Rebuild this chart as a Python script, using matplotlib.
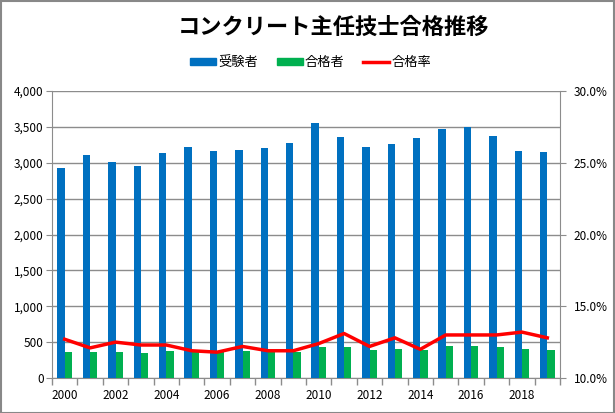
import matplotlib.pyplot as plt
import numpy as np
from matplotlib.ticker import FuncFormatter, MultipleLocator, FixedLocator
from matplotlib.patches import Rectangle
from matplotlib.lines import Line2D

plt.rcParams['font.family'] = ['Noto Sans CJK JP', 'DejaVu Sans']

years = list(range(2000, 2020))
examinees = [2926, 3107, 3009, 2953, 3135, 3219, 3163, 3177, 3205, 3274,
             3553, 3358, 3219, 3260, 3344, 3470, 3498, 3372, 3163, 3149]
passed = [366, 366, 366, 352, 380, 366, 366, 380, 366, 366,
          435, 435, 394, 407, 394, 449, 449, 435, 407, 394]
pass_rate = [12.7, 12.1, 12.5, 12.3, 12.3, 11.9, 11.8, 12.2, 11.9, 11.9,
             12.4, 13.1, 12.2, 12.8, 12.0, 13.0, 13.0, 13.0, 13.2, 12.8]

blue = '#0070c0'
green = '#00b050'
red = '#ff0000'
grid = '#8c8c8c'

fig = plt.figure(figsize=(6.15, 4.13), dpi=100)
ax = fig.add_axes([0.0846, 0.0847, 0.826, 0.695])
x = np.arange(len(years))
w = 0.29
ax.bar(x - w / 2, examinees, w, color=blue, zorder=3, label='受験者')
ax.bar(x + w / 2, passed, w, color=green, zorder=3, label='合格者')
ax.set_xlim(-0.5, len(years) - 0.5)
ax.set_ylim(0, 4000)
ax.yaxis.set_major_locator(MultipleLocator(500))
ax.yaxis.set_major_formatter(FuncFormatter(lambda v, p: f'{int(v):,}'))
ax.grid(axis='y', color=grid, linewidth=1, zorder=0)

ax.set_xticks(x[::2])
ax.set_xticklabels([str(y) for y in years[::2]])
ax.xaxis.set_minor_locator(FixedLocator(np.arange(-0.5, len(years), 1)))
ax.tick_params(axis='x', which='major', length=0, labelsize=8.5, pad=8)
ax.tick_params(axis='x', which='minor', length=5, color=grid, width=1)
ax.tick_params(axis='y', length=4, color=grid, labelsize=8.5, pad=2)
for s in ['top', 'right']:
    ax.spines[s].set_visible(False)
for s in ['left', 'bottom']:
    ax.spines[s].set_color(grid)

ax2 = ax.twinx()
ax2.plot(x, pass_rate, color=red, linewidth=2.5, zorder=4, label='合格率')
ax2.set_ylim(10, 30)
ax2.yaxis.set_major_locator(MultipleLocator(5))
ax2.yaxis.set_major_formatter(FuncFormatter(lambda v, p: f'{v:.1f}%'))
ax2.tick_params(axis='y', length=4, color=grid, labelsize=8.5, pad=6)
for s in ['top', 'left', 'bottom']:
    ax2.spines[s].set_visible(False)
ax2.spines['right'].set_color(grid)

fig.text(0.542, 0.935, 'コンクリート主任技士合格推移', ha='center', va='center',
         fontsize=16, fontweight='bold')

handles = [Rectangle((0, 0), 1, 1, color=blue), Rectangle((0, 0), 1, 1, color=green),
           Line2D([], [], color=red, linewidth=2.5)]
fig.legend(handles, ['受験者', '合格者', '合格率'], loc='center', bbox_to_anchor=(0.505, 0.848),
           ncol=3, frameon=False, fontsize=9.5, handlelength=2.0, handleheight=0.5,
           columnspacing=1.4, handletextpad=0.15)

fig.patches.append(Rectangle((0.001, 0.001), 0.998, 0.997, transform=fig.transFigure,
                             fill=False, edgecolor='#888888', linewidth=1.5))

plt.savefig('out.png', dpi=100)
